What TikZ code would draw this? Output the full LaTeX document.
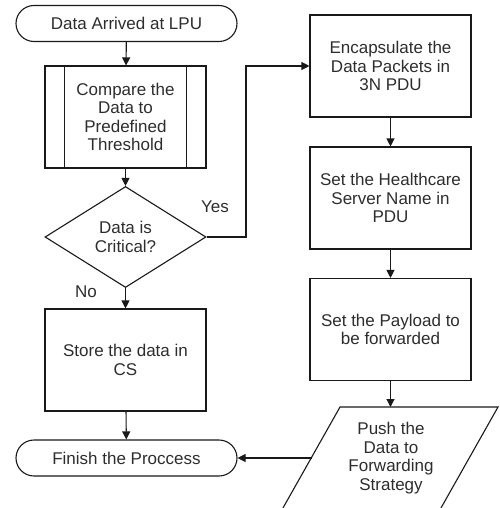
\documentclass[tikz,border=0pt]{standalone}
\usepackage{fontspec}
\setmainfont{Liberation Sans}
\usetikzlibrary{arrows.meta,shapes.geometric,calc}
\definecolor{txt}{RGB}{45,45,45}
\definecolor{ln}{RGB}{25,25,25}
\begin{document}
\begin{tikzpicture}[x=1pt,y=-1pt,
  every node/.style={font=\fontsize{17}{18.5}\selectfont, text=txt, align=center},
  box/.style={draw=ln, line width=1.1pt, minimum width=161pt, minimum height=102pt, inner sep=0pt},
  term/.style={draw=ln, line width=1.1pt, minimum width=221pt, minimum height=36pt, rounded corners=18pt, inner sep=0pt},
  dec/.style={draw=ln, line width=1.1pt, diamond, minimum width=161pt, minimum height=101pt, inner sep=0pt},
  arr/.style={draw=ln, line width=1.1pt, -{Triangle[length=8pt,width=8pt]}},
  edge/.style={draw=ln, line width=1.1pt}]
\useasboundingbox (0,0) rectangle (499,508);
\node[term] (start) at (126.5,23.5) {Data Arrived at LPU};
\node[box] (cmp) at (125.5,117) {Compare the\\Data to\\Predefined\\Threshold};
\draw[edge] ([xshift=20pt]cmp.north west) -- ([xshift=20pt]cmp.south west);
\draw[edge] ([xshift=-20pt]cmp.north east) -- ([xshift=-20pt]cmp.south east);
\node[dec] (crit) at (125.5,237) {Data is\\Critical?};
\node[box] (store) at (125.5,360) {Store the data in\\CS};
\node[term] (fin) at (126.5,458) {Finish the Proccess};
\node[box] (enc) at (390.5,66) {Encapsulate the\\Data Packets in\\3N PDU};
\node[box] (srv) at (390.5,198) {Set the Healthcare\\Server Name in\\PDU};
\node[box] (pay) at (390.5,329.5) {Set the Payload to\\be forwarded};
\node (push) at (391,458) {Push the\\Data to\\Forwarding\\Strategy};
\draw[edge] (340,407) -- (498,407) -- (438.7,512) -- (280.7,512) -- cycle;
\coordinate (pushT) at (390.5,407);
\coordinate (pushL) at (311.5,458);
\coordinate (bend) at (246,237);
\node (yes) at (215,207) {Yes};
\node (no) at (86,292) {No};
\draw[arr] (start) -- (cmp);
\draw[arr] (cmp) -- (crit);
\draw[arr] (crit) -- (store);
\draw[arr] (store) -- (fin);
\draw[arr] (crit.east) -- (bend) |- (enc.west);
\draw[arr] (enc) -- (srv);
\draw[arr] (srv) -- (pay);
\draw[arr] (pay) -- (pushT);
\draw[arr] (pushL) -- (fin.east);
\end{tikzpicture}
\end{document}
